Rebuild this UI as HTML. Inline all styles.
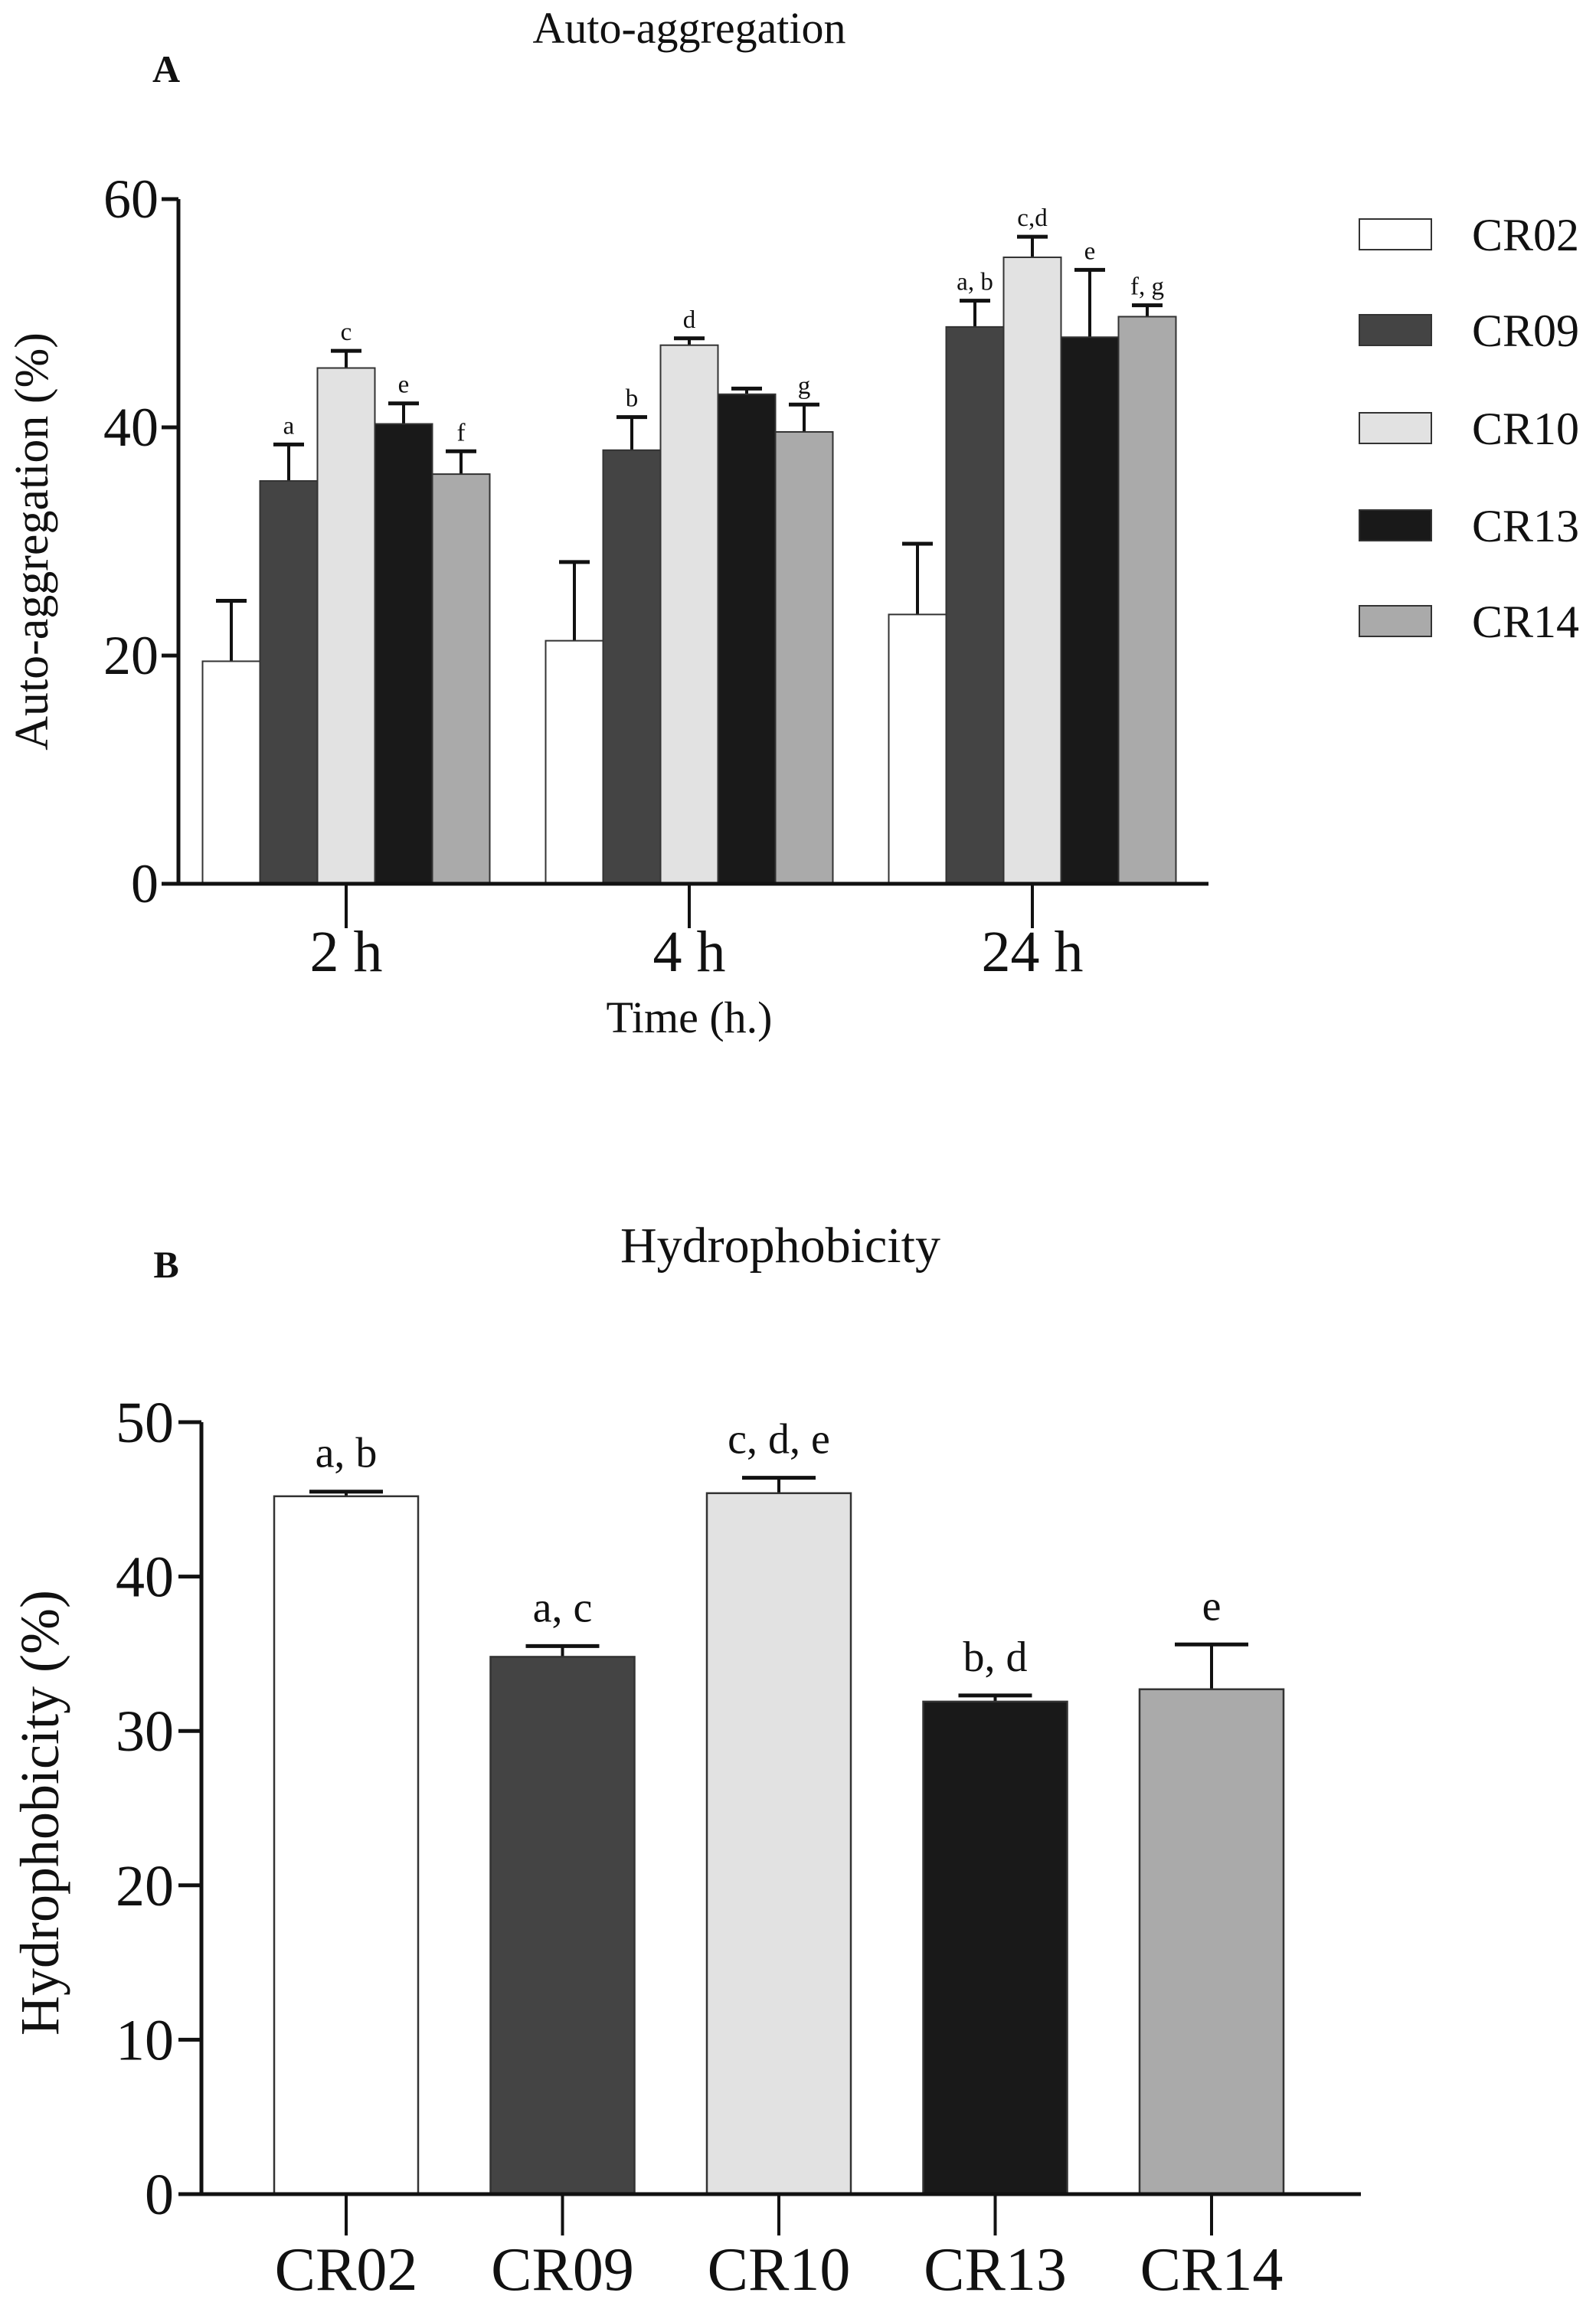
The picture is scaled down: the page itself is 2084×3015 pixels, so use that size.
<!DOCTYPE html>
<html><head><meta charset="utf-8"><style>
html,body{margin:0;padding:0;background:#fff}
svg{display:block}
text{font-family:"Liberation Serif",serif;fill:#111}
</style></head><body>
<svg id="fig" width="2084" height="3015" viewBox="0 0 2084 3015" xmlns="http://www.w3.org/2000/svg">
<text x="900" y="56" font-size="58" text-anchor="middle">Auto-aggregation</text>
<text x="217" y="107" font-size="50" font-weight="bold" text-anchor="middle">A</text>
<text x="1019" y="1648" font-size="66" text-anchor="middle">Hydrophobicity</text>
<text x="217" y="1668" font-size="50" font-weight="bold" text-anchor="middle">B</text>
<g id="chartA"></g>
<g id="chartB"></g>
</svg>
<script>
// Chart A data
const groupsA = ["2 h", "4 h", "24 h"];
const seriesA = ["CR02", "CR09", "CR10", "CR13", "CR14"];
const valuesA = [[19.5, 35.3, 45.2, 40.3, 35.9], [21.3, 38.0, 47.2, 42.9, 39.6], [23.6, 48.8, 54.9, 47.9, 49.7]];
const errorsA = [[5.3, 3.2, 1.5, 1.8, 2.0], [6.9, 2.9, 0.6, 0.5, 2.4], [6.2, 2.3, 1.8, 5.9, 1.0]];
const lettersA = [["", "a", "c", "e", "f"], ["", "b", "d", "", "g"], ["", "a, b", "c,d", "e", "f, g"]];
const ticksA = [0, 20, 40, 60];
// Chart B data
const categoriesB = ["CR02", "CR09", "CR10", "CR13", "CR14"];
const valuesB = [45.2, 34.8, 45.4, 31.9, 32.7];
const errorsB = [0.3, 0.7, 1.0, 0.4, 2.9];
const lettersB = ["a, b", "a, c", "c, d, e", "b, d", "e"];
const ticksB = [0, 10, 20, 30, 40, 50];

const colors = ["#ffffff", "#444444", "#e2e2e2", "#191919", "#aaaaaa"];
const NS = "http://www.w3.org/2000/svg";
function mk(parent, tag, attrs, txt) {
  const e = document.createElementNS(NS, tag);
  for (const k in attrs) e.setAttribute(k, attrs[k]);
  if (txt !== undefined) e.textContent = txt;
  parent.appendChild(e);
  return e;
}

// ---- Chart A ----
(function () {
  const g = document.getElementById("chartA");
  const x0 = 233, x1 = 1578, yBase = 1154, yTop = 260, vmax = 60;
  const yA = v => yBase - v / vmax * (yBase - yTop);
  const centers = [452, 900, 1348];
  const bw = 75;
  groupsA.forEach((grp, gi) => {
    valuesA[gi].forEach((v, si) => {
      const bx = centers[gi] + (si - 2.5) * bw;
      const cx = bx + bw / 2;
      const ey = yA(v + errorsA[gi][si]);
      const el = mk(g, "line", { x1: cx, x2: cx, y1: yA(v), y2: ey, stroke: "#111", "stroke-width": 4 });
      
      
      const cap = mk(g, "line", { x1: cx - 20, x2: cx + 20, y1: ey, y2: ey, stroke: "#111", "stroke-width": 5 });
      
      
      const r = mk(g, "rect", { x: bx, y: yA(v), width: bw, height: yBase - yA(v), fill: colors[si], stroke: "#333", "stroke-width": 2 });
      
      
      if (lettersA[gi][si]) {
        const t = mk(g, "text", { x: cx, y: ey - 14, "font-size": 33, "text-anchor": "middle" }, lettersA[gi][si]);
        
        
      }
    });
    const tk = mk(g, "line", { x1: centers[gi], x2: centers[gi], y1: yBase, y2: yBase + 58, stroke: "#111", "stroke-width": 4 });
    
    
    const lb = mk(g, "text", { x: centers[gi], y: 1268, "font-size": 76, "text-anchor": "middle" }, grp);
    
    
  });
  const ax = mk(g, "line", { x1: x0, x2: x0, y1: yTop, y2: yBase + 2, stroke: "#111", "stroke-width": 5 });
  
  
  const xa = mk(g, "line", { x1: x0 - 2, x2: x1, y1: yBase, y2: yBase, stroke: "#111", "stroke-width": 5 });
  
  
  ticksA.forEach(t => {
    const l = mk(g, "line", { x1: x0 - 22, x2: x0, y1: yA(t), y2: yA(t), stroke: "#111", "stroke-width": 5 });
    
    
    const tx = mk(g, "text", { x: x0 - 26, y: yA(t) + 24, "font-size": 72, "text-anchor": "end" }, t);
    
    
  });
  const yt = mk(g, "text", { x: 0, y: 0, "font-size": 62, "text-anchor": "middle", transform: "translate(62,707) rotate(-90)" }, "Auto-aggregation (%)");
  
  
  const xt = mk(g, "text", { x: 900, y: 1348, "font-size": 58, "text-anchor": "middle" }, "Time (h.)");
  
  
  const ly = [306, 431, 559, 686, 811];
  seriesA.forEach((s, si) => {
    const r = mk(g, "rect", { x: 1775, y: ly[si] - 20, width: 94, height: 40, fill: colors[si], stroke: "#333", "stroke-width": 2 });
    
    
    const t = mk(g, "text", { x: 1922, y: ly[si] + 21, "font-size": 60 }, s);
    
    
  });
})();

// ---- Chart B ----
(function () {
  const g = document.getElementById("chartB");
  const x0 = 263, x1 = 1777, yBase = 2865, yTop = 1857, vmax = 50;
  const yB = v => yBase - v / vmax * (yBase - yTop);
  const xB = i => 452 + i * 282.5;
  const bw = 188;
  categoriesB.forEach((c, i) => {
    const cx = xB(i), v = valuesB[i];
    const ey = yB(v + errorsB[i]);
    const el = mk(g, "line", { x1: cx, x2: cx, y1: yB(v), y2: ey, stroke: "#111", "stroke-width": 4 });
    
    
    const cap = mk(g, "line", { x1: cx - 48, x2: cx + 48, y1: ey, y2: ey, stroke: "#111", "stroke-width": 5 });
    
    
    const r = mk(g, "rect", { x: cx - bw / 2, y: yB(v), width: bw, height: yBase - yB(v), fill: colors[i], stroke: "#333", "stroke-width": 2.5 });
    
    
    const t = mk(g, "text", { x: cx, y: ey - 32, "font-size": 56, "text-anchor": "middle" }, lettersB[i]);
    
    
    const tk = mk(g, "line", { x1: cx, x2: cx, y1: yBase, y2: yBase + 54, stroke: "#111", "stroke-width": 4 });
    
    
    const lb = mk(g, "text", { x: cx, y: 2990, "font-size": 80, "text-anchor": "middle" }, c);
    
    
  });
  const ax = mk(g, "line", { x1: x0, x2: x0, y1: yTop, y2: yBase + 2, stroke: "#111", "stroke-width": 5 });
  
  
  const xa = mk(g, "line", { x1: x0 - 2, x2: x1, y1: yBase, y2: yBase, stroke: "#111", "stroke-width": 5 });
  
  
  ticksB.forEach(t => {
    const l = mk(g, "line", { x1: x0 - 30, x2: x0, y1: yB(t), y2: yB(t), stroke: "#111", "stroke-width": 5 });
    
    
    const tx = mk(g, "text", { x: x0 - 36, y: yB(t) + 26, "font-size": 76, "text-anchor": "end" }, t);
    
    
  });
  const yt = mk(g, "text", { x: 0, y: 0, "font-size": 72, "text-anchor": "middle", transform: "translate(76,2367) rotate(-90)" }, "Hydrophobicity (%)");
  
  
})();
</script>
</body></html>
